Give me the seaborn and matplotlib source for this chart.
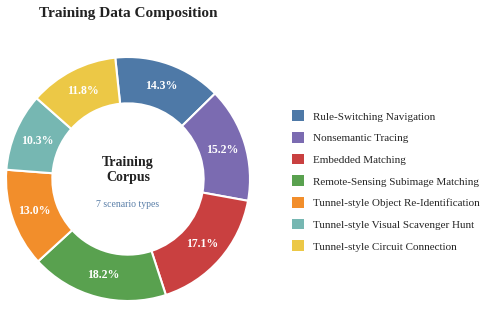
import matplotlib
matplotlib.use("Agg")
import matplotlib.pyplot as plt
import seaborn as sns
from matplotlib.patches import Patch

# Scenario shares in the training corpus (%)
scenarios = [
    "Rule-Switching Navigation",
    "Nonsemantic Tracing",
    "Embedded Matching",
    "Remote-Sensing Subimage Matching",
    "Tunnel-style Object Re-Identification",
    "Tunnel-style Visual Scavenger Hunt",
    "Tunnel-style Circuit Connection",
]
shares = [14.3, 15.2, 17.1, 18.2, 13.0, 10.3, 11.8]
colors = ["#4e79a7", "#7b6bb1", "#c94040", "#59a14f", "#f28e2b", "#76b7b2", "#ecc846"]

sns.set_theme(style="white")
plt.rcParams["font.family"] = ["Liberation Serif", "DejaVu Serif"]

fig = plt.figure(figsize=(4.87, 3.09), dpi=100)
ax = fig.add_axes([6 / 487, 8 / 309, 244 / 487, 244 / 309])

wedges, texts, autotexts = ax.pie(
    shares,
    colors=colors,
    startangle=96,
    counterclock=False,
    radius=1.0,
    autopct="%.1f%%",
    pctdistance=0.81,
    wedgeprops=dict(width=0.38, edgecolor="white", linewidth=1.5),
    textprops=dict(color="white", fontsize=8.5, fontweight="bold"),
)
ax.set_xlim(-1, 1)
ax.set_ylim(-1, 1)
ax.set_aspect("equal")

# Centre text
ax.text(0, 0.075, "Training\nCorpus", ha="center", va="center",
        fontsize=10, fontweight="bold", color="#222222", linespacing=1.2)
ax.text(0, -0.21, "7 scenario types", ha="center", va="center",
        fontsize=7, color="#5a7fa8")

fig.text(128 / 487, 1 - 13 / 309, "Training Data Composition", ha="center", va="center",
         fontsize=11, fontweight="bold", color="#222222")

handles = [Patch(facecolor=c, edgecolor="none") for c in colors]
fig.legend(handles, scenarios, loc="center left",
           bbox_to_anchor=(292 / 487, 1 - 181 / 309),
           frameon=False, fontsize=8, handlelength=1.1, handleheight=1.1,
           handletextpad=0.8, labelspacing=0.95, borderpad=0, borderaxespad=0)

fig.savefig("out.png", dpi=100)
